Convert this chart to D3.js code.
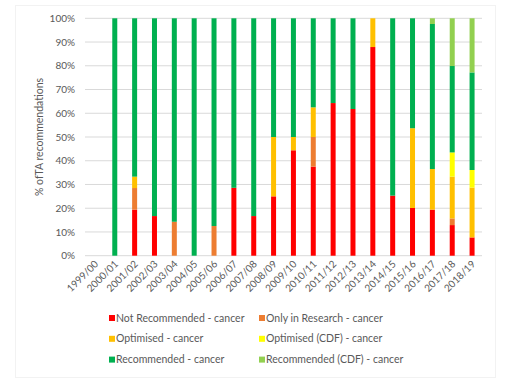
<!DOCTYPE html>
<html><head><meta charset="utf-8">
<script src="https://cdn.jsdelivr.net/npm/d3@7"></script>
<style>body{margin:0;background:#fff}svg{display:block}text{font-family:Lato,"Open Sans",sans-serif;fill:#595959}</style>
</head><body><svg id="c" width="512" height="384"></svg>
<script>
const categories = ["1999/00","2000/01","2001/02","2002/03","2003/04","2004/05","2005/06","2006/07","2007/08","2008/09","2009/10","2010/11","2011/12","2012/13","2013/14","2014/15","2015/16","2016/17","2017/18","2018/19"];
const notRecommended = [0,0,19.4,16.7,0,0,0,28.6,16.7,25,44.4,37.5,64.3,61.8,87.9,25.3,20.1,19.4,12.9,7.7];
const onlyInResearch = [0,0,9.1,0,14.3,0,12.5,0,0,0,0,12.5,0,0,0,0,0,0,2.8,0];
const optimised = [0,0,4.8,0,0,0,0,0,0,25,5.6,12.5,0,0,12.1,0,33.6,17.1,17.6,21.0];
const optimisedCDF = [0,0,0,0,0,0,0,0,0,0,0,0,0,0,0,0,0,0,10.2,7.4];
const recommended = [0,100,66.7,83.3,85.7,100,87.5,71.4,83.3,50,50,37.5,35.7,38.2,0,74.7,46.3,61.1,36.4,41.1];
const recommendedCDF = [0,0,0,0,0,0,0,0,0,0,0,0,0,0,0,0,0,2.4,20.1,22.8];
const seriesNames = ["Not Recommended - cancer","Only in Research - cancer","Optimised - cancer","Optimised (CDF) - cancer","Recommended - cancer","Recommended (CDF) - cancer"];
const seriesColors = ["#FF0000","#ED7D31","#FFC000","#FFFF00","#00B050","#92D050"];
const yTicks = [0,10,20,30,40,50,60,70,80,90,100];

const seriesData = [notRecommended,onlyInResearch,optimised,optimisedCDF,recommended,recommendedCDF];
const rows = categories.map((c,i)=>{const o={cat:c};seriesNames.forEach((s,j)=>o[s]=seriesData[j][i]);return o;});
const stack = d3.stack().keys(seriesNames)(rows);

const svg = d3.select("#c");
svg.append("rect").attr("x",15.5).attr("y",5.5).attr("width",480).attr("height",372).attr("fill","none").attr("stroke","#f2f2f2");

const L=85,R=482,T=18.3,B=255.7;
const x = d3.scaleBand().domain(categories).range([L,R]).padding(0);
const y = d3.scaleLinear().domain([0,100]).range([B,T]);
const bw = 5;

const g = svg.append("g");
g.selectAll("line.grid").data(yTicks).join("line")
 .attr("x1",L).attr("x2",R).attr("y1",d=>y(d)).attr("y2",d=>y(d))
 .attr("stroke","#d9d9d9").attr("stroke-width",1);

const yAxis = svg.append("g").attr("transform",`translate(${L},0)`)
 .call(d3.axisLeft(y).tickValues(yTicks).tickFormat(d=>d+"%").tickSize(0).tickPadding(10));
yAxis.select(".domain").remove();
yAxis.selectAll("text").attr("font-size","10px").style("font-family","Lato,sans-serif").attr("fill","#595959");

stack.forEach((s,j)=>{
  g.append("g").attr("fill",seriesColors[j]).selectAll("rect").data(s).join("rect")
   .attr("x",d=>x(d.data.cat)+x.bandwidth()/2-bw/2).attr("width",bw)
   .attr("y",d=>y(d[1])).attr("height",d=>y(d[0])-y(d[1]));
});

const xAxis = svg.append("g").attr("transform",`translate(0,${B})`)
 .call(d3.axisBottom(x).tickSize(0).tickPadding(0));
xAxis.select(".domain").remove();
xAxis.selectAll("text").attr("font-size","10px").style("font-family","Lato,sans-serif").attr("fill","#595959")
 .attr("text-anchor","end").attr("dy","0").attr("y",0)
 .attr("transform","translate(4,9) rotate(-45)");

svg.append("text").attr("transform","translate(43,137) rotate(-90)").attr("text-anchor","middle")
 .attr("font-size","10.5px").text("% ofTA recommendations");

const leg = svg.append("g");
seriesNames.forEach((n,i)=>{
  const cx = i%2===0 ? 109 : 259;
  const cy = 321 + Math.floor(i/2)*20.8;
  leg.append("rect").attr("x",cx).attr("y",cy-6).attr("width",6).attr("height",6).attr("fill",seriesColors[i]);
  leg.append("text").attr("x",cx+7).attr("y",cy).attr("dy","0.5px").attr("font-size","10.5px").text(n);
});
</script></body></html>
